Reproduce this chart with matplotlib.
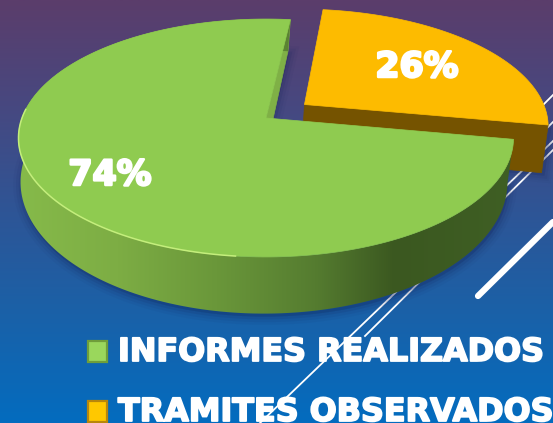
import numpy as np
from matplotlib import pyplot as plt
from matplotlib import patheffects as pe
from matplotlib.colors import LinearSegmentedColormap
from matplotlib.patches import Polygon, Rectangle

# Data
labels = ['INFORMES REALIZADOS', 'TRAMITES OBSERVADOS']
values = [74, 26]
pct_labels = ['74%', '26%']
colors = ['#8fcb50', '#fdbb00']
side_colors = ['#7fb046', '#755300']

W, H = 553, 423
start_angle = 83.3
explode = [0, 0.2]

# Perspective of the pie, top and bottom planes
K = 0.168
top = dict(cx=266, cy=118, a=244, b=115.6)
bot = dict(cx=264, cy=160, a=240, b=127.8)
bot_orange = dict(cx=264, cy=165, a=240, b=127.8)


def project(x, y, p):
    w = 1 + K*y
    return p['cx'] + p['a']*x/w, p['cy'] - p['b']*y/w


def arc(t0, t1, off, p):
    t = np.radians(np.linspace(t0, t1, 200))
    return project(off[0] + np.cos(t), off[1] + np.sin(t), p)


def poly(xs, ys, **kw):
    return Polygon(np.column_stack([xs, ys]), closed=True, **kw)


fig = plt.figure(figsize=[W/100, H/100], dpi=100)
ax = fig.add_axes([0, 0, 1, 1])
ax.set_xlim(0, W)
ax.set_ylim(H, 0)
ax.axis('off')

# Background gradient
bg = LinearSegmentedColormap.from_list('bg', [(0, '#5b3d6b'), (.25, '#474880'), (.5, '#2e5596'),
                                              (.72, '#1c60a6'), (1, '#036cbf')])
ax.imshow(np.linspace(0, 1, 256)[:, None], cmap=bg, extent=[0, W, H, 0], aspect='auto', zorder=0)

# Decorative lines behind the pie
thin = [([260, 553], [423, 141]), ([365, 553], [336, 150]), ([520, 553], [128, 95]), ([530, 553], [145, 122])]
for lx, ly in thin:
    ax.plot(lx, ly, color='white', lw=1.3, zorder=1)
ax.plot([478, 553], [296, 222], color='white', lw=4.5, solid_capstyle='round', zorder=1)

# Slice angles from the values
spans = [v/sum(values)*360 for v in values]
t0s = [start_angle, start_angle + spans[0]]
offs = []
for i in range(2):
    mid = np.radians(t0s[i] + spans[i]/2)
    offs.append((explode[i]*np.cos(mid), explode[i]*np.sin(mid)))

# Orange slice first, it sits behind the green one
t0, t1 = t0s[1], t0s[1] + spans[1]
off = offs[1]
ox, oy = arc(t0, t1, off, top)
bx, by = arc(t0, t1, off, bot_orange)
cx, cy = project(off[0], off[1], top)
cbx, cby = project(off[0], off[1], bot_orange)
# soft shadow under the cut face
for lw, al in [(10, .05), (7, .07), (4, .1)]:
    ax.add_patch(poly([cbx + 2, bx[0] + 3, ox[0] + 3], [cby + 3, by[0] + 3, oy[0] + 3], fc='#1a2a60', ec='#1a2a60',
                      lw=lw, alpha=al, zorder=2))
# cut face running from the apex to the right corner
ax.add_patch(poly([cx, cbx, bx[0], ox[0]], [cy, cby, by[0], oy[0]], fc=side_colors[1], ec=side_colors[1], lw=.5, zorder=3))
ax.add_patch(poly(np.r_[cx, ox], np.r_[cy, oy], fc=colors[1], ec=colors[1], lw=.5, zorder=4))

# Green slice
t0, t1 = t0s[0], t0s[0] + spans[0]
ox, oy = arc(t0, t1, (0, 0), top)
bx, by = arc(t0, t1, (0, 0), bot)
cx, cy = project(0, 0, top)
cbx, cby = project(0, 0, bot)
for lw, al in [(12, .05), (8, .08), (4, .12)]:
    ax.add_patch(poly(np.r_[bx + 1, cbx], np.r_[by + 3, cby], fc='#14235a', ec='#14235a', lw=lw, alpha=al, zorder=5))
# inner cut wall at the back
ax.add_patch(poly([ox[0], bx[0], cbx, cx], [oy[0], by[0], cby, cy], fc=side_colors[0], ec=side_colors[0], lw=.5, zorder=6))
# outer wall with horizontal gradient
wall = LinearSegmentedColormap.from_list('wall', [(0, '#86ba4a'), (.2, '#7dad44'), (.4, '#6a973a'),
                                                  (.6, '#557c30'), (.76, '#3b5820'), (1, '#3f5f24')])
wall_patch = poly(np.r_[ox, bx[::-1]], np.r_[oy, by[::-1]], fc='none', ec='none', zorder=6)
ax.add_patch(wall_patch)
im = ax.imshow(np.linspace(0, 1, 256)[None, :], cmap=wall, extent=[min(bx.min(), ox.min()), ox.max(), H, 0],
               aspect='auto', zorder=6)
im.set_clip_path(wall_patch)
ax.set_xlim(0, W)
ax.set_ylim(H, 0)
ax.add_patch(poly(np.r_[cx, ox], np.r_[cy, oy], fc=colors[0], ec=colors[0], lw=.5, zorder=7))
# light rim on the front edge
deg = np.linspace(t0, t1, 200)
front = (deg > 175) & (deg < 265)
ax.plot(ox[front], oy[front], color='#c4ee7c', lw=1.1, zorder=8)

# Percent labels
heavy = [pe.withStroke(linewidth=1.8, foreground='white')]
for txt, (tx, ty) in zip(pct_labels, [(110, 175), (417, 67)]):
    ax.text(tx, ty, txt, color='white', fontsize=25, fontweight='bold', family='DejaVu Sans',
            ha='center', va='center', path_effects=heavy, zorder=9)

# Legend
for lab, c, edge, y in zip(labels, ['#9ad75c', '#ffc800'], ['#6f9e3a', '#b8860b'], [341, 401]):
    ax.add_patch(Rectangle((88, y), 19, 21, fc=c, ec=edge, lw=1.6, zorder=9))
    ax.text(118, y + 20, lab, color='white', fontsize=22.9, fontweight='bold', family='DejaVu Sans',
            ha='left', va='baseline', path_effects=[pe.withStroke(linewidth=1.3, foreground='white')], zorder=9)

fig.savefig('out.png', dpi=100)
